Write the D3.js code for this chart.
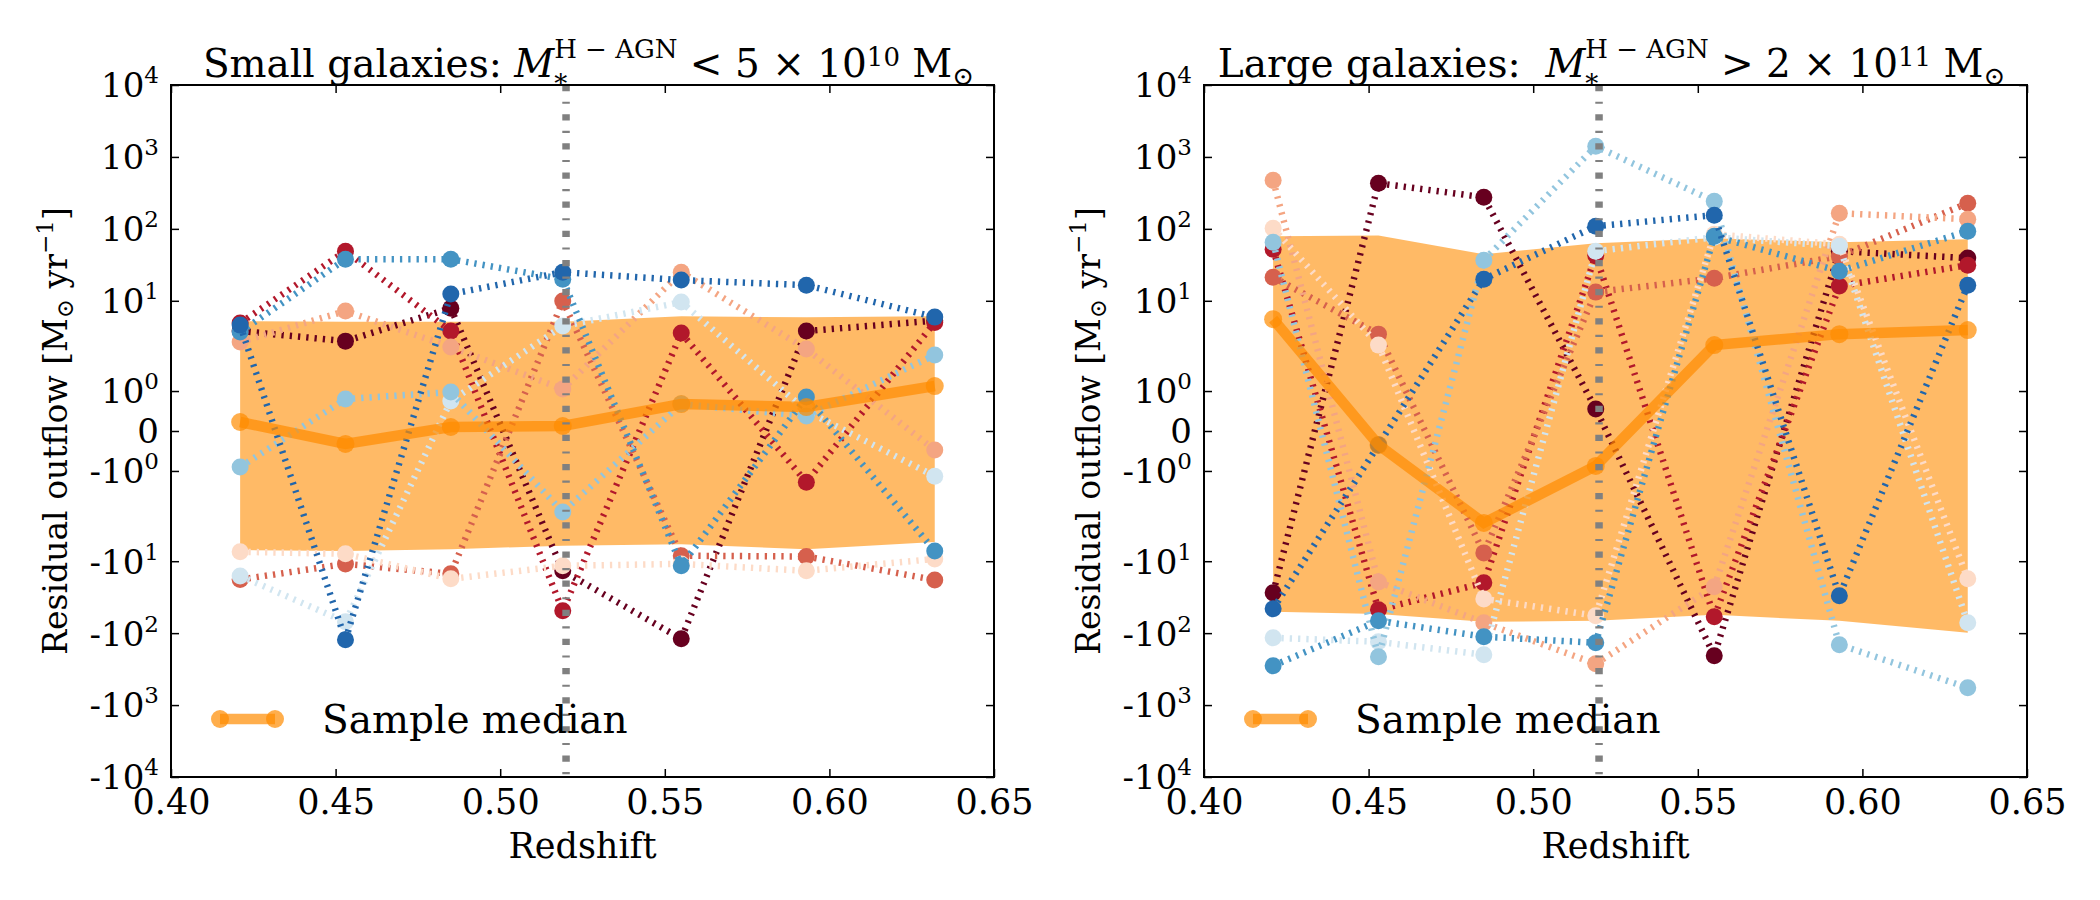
<!DOCTYPE html>
<html><head><meta charset="utf-8">
<script src="https://cdn.jsdelivr.net/npm/d3@7"></script>
<style>
body{margin:0;background:#fff}
text{font-family:"DejaVu Serif","DejaVu Sans",serif;white-space:pre;fill:#000}
</style></head><body>
<svg id="c" width="2100" height="900" xmlns="http://www.w3.org/2000/svg"></svg>
<script>
// ---------------- data ----------------
const redshifts = [0.421, 0.453, 0.485, 0.519, 0.555, 0.593, 0.632];
const xTicks = [0.40, 0.45, 0.50, 0.55, 0.60, 0.65];
const xTickLabels = ["0.40", "0.45", "0.50", "0.55", "0.60", "0.65"];
const yTicks = [1e4, 1e3, 1e2, 1e1, 1, 0, -1, -1e1, -1e2, -1e3, -1e4];
const yTickLabels = [["10","4"],["10","3"],["10","2"],["10","1"],["10","0"],["0",""],
                     ["-10","0"],["-10","1"],["-10","2"],["-10","3"],["-10","4"]];
const markRedshift = 0.52;
const seriesColors = ["#67001f","#b2182b","#d6604d","#f4a582","#fddbc7","#d1e5f0","#92c5de","#4393c3","#2166ac"];

// Small galaxies panel
const smallSeries = [
  [3.8, 2.75, 7.9, -13.6, -120, 3.8, 5.3],
  [4.9, 49, 3.8, -49, 3.56, -1.28, 5.0],
  [-18, -10.9, -15.0, 9.9, -8.4, -8.6, -18.2],
  [2.67, 7.2, 2.28, 1.05, 25, 2.13, -0.475],
  [-7.4, -7.9, -17.6, -11.6, -10.9, -13.6, -9.3],
  [-16.0, -69.7, 0.75, 4.45, 9.6, 0.5, -1.13],
  [-0.9, 0.8, 0.975, -2.07, 0.675, 0.375, 1.9],
  [3.67, 37.9, 37.9, 20, -11.6, 0.85, -7.2],
  [4.59, -124, 12.4, 25, 19.4, 16.5, 5.93]
];
const smallMedian = [0.225, -0.325, 0.1, 0.125, 0.675, 0.6, 1.125];
const smallHigh = [5.2, 5.1, 5.1, 5.1, 6.1, 5.9, 6.1];
const smallLow = [-7.0, -7.2, -6.8, -6.1, -5.8, -6.8, -5.4];

// Large galaxies panel
const largeSeries = [
  [-27.5, 430, 275, 0.55, -206, 49, 39.2],
  [52.2, -47.4, -20, 43, -59.3, 16, 31.3],
  [21.3, 3.44, -7.66, 13.2, 20.6, 41.7, 227],
  [474, -19.4, -71.9, -267, -22.7, 165, 136],
  [102, 2.42, -33.4, -57.4, 84, 61, -17.6],
  [-116, -132, -200, 49, 76.6, 57.4, -71.9],
  [65.3, -213, 36.7, 1406, 242, -145, -574],
  [-284, -67.5, -112, -136, 79, 25.8, 92.9],
  [-45.9, -0.35, 20, 109, 155, -30.3, 16.5]
];
const largeMedian = [5.56, -0.35, -2.94, -0.875, 2.42, 3.44, 3.92];
const largeHigh = [79, 81, 44.5, 63, 74, 65, 72];
const largeLow = [-50.6, -54, -69.7, -67.5, -55.6, -67.5, -98.9];

const smallTitle = [
  {t:"Small galaxies: ", fs:39}, {t:"M", fs:39, it:true},
  {t:"H − AGN", fs:26, sh:19, stack:true}, {t:"*", fs:26, sh:-16},
  {t:" < 5 × 10", fs:39}, {t:"10", fs:26, sh:11}, {t:" M", fs:39}, {t:"⊙", fs:26, sh:-8}
];
const largeTitle = [
  {t:"Large galaxies:  ", fs:39}, {t:"M", fs:39, it:true},
  {t:"H − AGN", fs:26, sh:19, stack:true}, {t:"*", fs:26, sh:-16},
  {t:" > 2 × 10", fs:39}, {t:"11", fs:26, sh:11}, {t:" M", fs:39}, {t:"⊙", fs:26, sh:-8}
];
const legendLabel = "Sample median";
const xLabel = "Redshift";

// ---------------- drawing ----------------
const svg = d3.select("#c");
const PW = 823, TOP = 85, BOT = 777;
const LT = 2, LSA = 1 / (1 - 1 / 10);
function T(v) { // matplotlib symlog (linthresh=2, linscale=1)
  const a = Math.abs(v);
  if (a <= LT) return v * LSA;
  return Math.sign(v) * LT * (LSA + Math.log10(a / LT));
}

function rich(g, parts, cx, y) {
  const grp = g.append("g");
  let x = 0, pending = 0;
  parts.forEach(p => {
    const t = grp.append("text").attr("x", x).attr("y", y - (p.sh || 0))
      .attr("font-size", p.fs).attr("font-style", p.it ? "italic" : "normal").text(p.t);
    const w = t.node().getComputedTextLength();
    if (p.stack) pending = w; else { x += Math.max(w, pending); pending = 0; }
  });
  grp.attr("transform", `translate(${cx - x / 2},0)`);
}

const panels = [
  {L:171, series:smallSeries, median:smallMedian, hi:smallHigh, lo:smallLow, title:smallTitle, tOff:6},
  {L:1204, series:largeSeries, median:largeMedian, hi:largeHigh, lo:largeLow, title:largeTitle, tOff:-4}
];

panels.forEach(P => {
  const g = svg.append("g");
  const x = d3.scaleLinear().domain([0.40, 0.65]).range([P.L, P.L + PW]);
  const yT = d3.scaleLinear().domain([T(-1e4), T(1e4)]).range([BOT, TOP]);
  const y = v => yT(T(v));

  // band
  const area = d3.area().x((d, i) => x(redshifts[i])).y0((d, i) => y(P.lo[i])).y1(d => y(d));
  g.append("path").datum(P.hi).attr("d", area).attr("fill", "#ff8c00").attr("fill-opacity", 0.6);

  // series
  const line = d3.line().x((d, i) => x(redshifts[i])).y(d => y(d));
  P.series.forEach((s, k) => {
    const sg = g.append("g");
    sg.append("path").datum(s).attr("d", line).attr("fill", "none")
      .attr("stroke", seriesColors[k]).attr("stroke-width", 6.5)
      .attr("stroke-dasharray", "2.3,6");
    sg.selectAll("circle").data(s).join("circle")
      .attr("cx", (d, i) => x(redshifts[i])).attr("cy", d => y(d)).attr("r", 8.5)
      .attr("fill", seriesColors[k]);
  });

  // median
  const mg = g.append("g");
  mg.append("path").datum(P.median).attr("d", line).attr("fill", "none")
    .attr("stroke", "#ff8c00").attr("stroke-opacity", 0.7).attr("stroke-width", 10.5);
  mg.selectAll("circle").data(P.median).join("circle")
    .attr("cx", (d, i) => x(redshifts[i])).attr("cy", d => y(d)).attr("r", 9)
    .attr("fill", "#ff8c00").attr("fill-opacity", 0.7);

  // vertical marker line
  g.append("line").attr("x1", x(markRedshift)).attr("x2", x(markRedshift))
    .attr("y1", TOP).attr("y2", BOT).attr("stroke", "#808080").attr("stroke-width", 7.5)
    .attr("stroke-dasharray", "6.25,10.4,2.1,10.4");

  // axes
  const tv = yTicks.map(T);
  const ax = [
    g.append("g").attr("transform", `translate(0,${BOT})`).call(d3.axisBottom(x).tickValues(xTicks).tickSize(-8).tickPadding(12).tickFormat((d, i) => xTickLabels[i])),
    g.append("g").attr("transform", `translate(0,${TOP})`).call(d3.axisTop(x).tickValues(xTicks).tickSize(-8).tickFormat("")),
    g.append("g").attr("transform", `translate(${P.L},0)`).call(d3.axisLeft(yT).tickValues(tv).tickSize(-8).tickPadding(12).tickFormat("")),
    g.append("g").attr("transform", `translate(${P.L + PW},0)`).call(d3.axisRight(yT).tickValues(tv).tickSize(-8).tickFormat(""))
  ];
  ax.forEach(a => {
    a.select(".domain").remove();
    a.selectAll(".tick line").attr("stroke", "#000").attr("stroke-width", 1.5);
    a.selectAll("text").attr("font-family", null).attr("font-size", 35);
  });
  ax[2].selectAll(".tick text").each(function (d, i) {
    const t = d3.select(this).attr("dy", "0.35em").attr("font-size", 34);
    const lab = yTickLabels[i];
    t.append("tspan").text(lab[0]);
    if (lab[1]) t.append("tspan").attr("font-size", 23).attr("dy", -14).text(lab[1]);
  });
  g.append("rect").attr("x", P.L).attr("y", TOP).attr("width", PW).attr("height", BOT - TOP)
    .attr("fill", "none").attr("stroke", "#000").attr("stroke-width", 2);

  // labels
  g.append("text").attr("x", P.L + PW / 2).attr("y", 858).attr("text-anchor", "middle")
    .attr("font-size", 35).text(xLabel);
  const yl = g.append("text").attr("transform", `translate(${P.L - 104},${(TOP + BOT) / 2}) rotate(-90)`)
    .attr("text-anchor", "middle").attr("font-size", 33);
  yl.append("tspan").text("Residual outflow [M");
  yl.append("tspan").attr("font-size", 23).attr("dy", 6).text("⊙");
  yl.append("tspan").attr("dy", -6).text(" yr");
  yl.append("tspan").attr("font-size", 23).attr("dy", -14).text("−1");
  yl.append("tspan").attr("dy", 14).text("]");

  rich(g, P.title, P.L + PW / 2 + P.tOff, 77);

  // legend
  const lg = g.append("g");
  const hx = [P.L + 49, P.L + 104];
  lg.append("line").attr("x1", hx[0]).attr("x2", hx[1]).attr("y1", 719).attr("y2", 719)
    .attr("stroke", "#ff8c00").attr("stroke-opacity", 0.7).attr("stroke-width", 10.5);
  lg.selectAll("circle").data(hx).join("circle").attr("cx", d => d).attr("cy", 719).attr("r", 9)
    .attr("fill", "#ff8c00").attr("fill-opacity", 0.7);
  lg.append("text").attr("x", P.L + 151).attr("y", 733).attr("font-size", 39).text(legendLabel);
});
</script>
</body></html>
